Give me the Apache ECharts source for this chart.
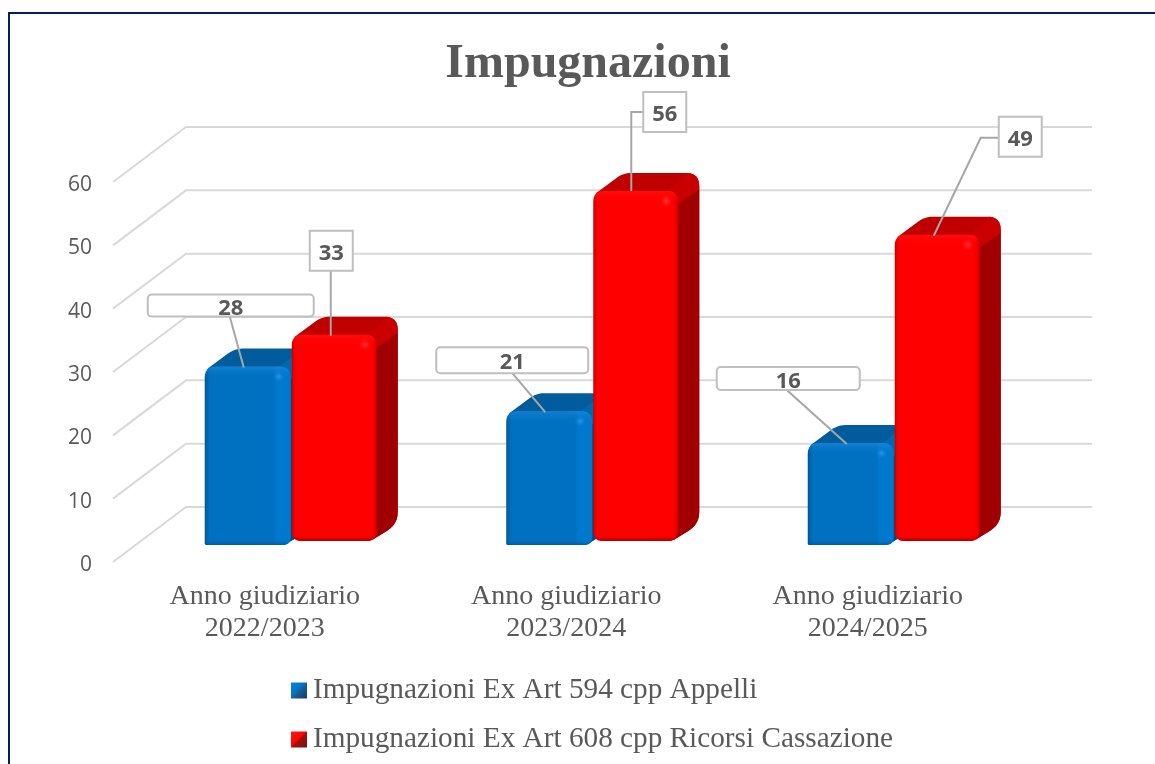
<!DOCTYPE html>
<html>
<head>
<meta charset="utf-8">
<title>Impugnazioni</title>
<style>
html, body { margin: 0; padding: 0; background: #fff; }
#chart { width: 1155px; height: 764px; }
</style>
<script src="https://cdn.jsdelivr.net/npm/echarts@6/dist/echarts.min.js"></script>
</head>
<body>
<div id="chart"></div>
<script>
'use strict';

var titleText = 'Impugnazioni';
var categories = ['Anno giudiziario\n2022/2023', 'Anno giudiziario\n2023/2024', 'Anno giudiziario\n2024/2025'];
var nameAppelli = 'Impugnazioni Ex Art 594 cpp Appelli';
var nameRicorsi = 'Impugnazioni Ex Art 608 cpp Ricorsi Cassazione';
var appelli = [28, 21, 16];
var ricorsi = [33, 56, 49];
var yTicks = [0, 10, 20, 30, 40, 50, 60];

// callout boxes and leader lines, px relative to the top of each bar
var calloutsAppelli = [
    { box: [-100, -72, 166, 22], r: 4, line: [[-18, -50], [-4, 1]] },
    { box: [-113, -64, 152, 26], r: 4, line: [[-37, -38], [-4, 1]] },
    { box: [-134, -76, 143, 23], r: 4, line: [[-64, -53], [-4, 1]] }
];
var calloutsRicorsi = [
    { box: [-24.5, -104, 43, 40], r: 0, line: [[-3.5, -64], [-3.5, 1]] },
    { box: [7.5, -99, 43, 40], r: 0, line: [[7.5, -79], [-4.5, -79], [-4.5, 0]] },
    { box: [61.5, -118, 43, 40], r: 0, line: [[61.5, -97], [43.5, -97], [-3.5, 1]] }
];

var TEXT_COLOR = '#595959';
var SERIF = '"Liberation Serif", serif';
var SANS = '"Open Sans", sans-serif';
var WALL_DX = 73;
var WALL_DY = 55;
var WALL_RIGHT = 1092;

// shape of the two bar series inside a category band
var styleAppelli = {
    offset: -60, width: 86, lift: 17, scale: 1.006, footR: 2,
    top: '#005C9C', side: '#004C82', corner: '#0068AC', shine: '#2A98EC',
    front: [[0, '#004F88'], [0.02, '#0062A8'], [0.06, '#0070C0'], [0.8, '#0070C0'], [0.83, '#0078CE'], [1, '#0078CE']],
    shadeTop: 'rgba(40,150,240,0.45)', shadeBottom: 'rgba(0,70,130,0.5)', shadeClear: 'rgba(0,112,192,0)'
};
var styleRicorsi = {
    offset: 27, width: 85, lift: 21, scale: 0.987, footR: 10,
    top: '#C00000', side: '#A00000', corner: '#CA0000', shine: '#FF3A3A',
    front: [[0, '#C00000'], [0.02, '#E60000'], [0.05, '#FF0000'], [0.93, '#FF0000'], [0.97, '#EE0000'], [1, '#D00000']],
    shadeTop: 'rgba(255,40,40,0.3)', shadeBottom: 'rgba(130,0,0,0.8)', shadeClear: 'rgba(255,0,0,0)'
};
var BAR_DX = 21;
var BAR_DY = 17;

var gradient = function (x2, y2, stops) {
    return new echarts.graphic.LinearGradient(0, 0, x2, y2, stops.map(function (s) {
        return { offset: s[0], color: s[1] };
    }));
};

// polygon with softened corners, radii[i] belongs to pts[i]
var roundPoly = function (pts, radii) {
    var out = [];
    var n = pts.length;
    pts.forEach(function (p, i) {
        var r = radii[i];
        if (!r) {
            out.push(p);
            return;
        }
        var a = pts[(i + n - 1) % n];
        var b = pts[(i + 1) % n];
        var la = Math.hypot(a[0] - p[0], a[1] - p[1]);
        var lb = Math.hypot(b[0] - p[0], b[1] - p[1]);
        var p0 = [p[0] + (a[0] - p[0]) * r / la, p[1] + (a[1] - p[1]) * r / la];
        var p1 = [p[0] + (b[0] - p[0]) * r / lb, p[1] + (b[1] - p[1]) * r / lb];
        for (var k = 0; k <= 6; k++) {
            var t = k / 6;
            out.push([
                (1 - t) * (1 - t) * p0[0] + 2 * t * (1 - t) * p[0] + t * t * p1[0],
                (1 - t) * (1 - t) * p0[1] + 2 * t * (1 - t) * p[1] + t * t * p1[1]
            ]);
        }
    });
    return out;
};

// front face rectangle of a bar from the axis scales
var barBox = function (api, st) {
    var base = api.coord([api.value(0), 0]);
    var unit = api.size([0, 1])[1];
    var x0 = base[0] + st.offset;
    var y0 = base[1] - st.lift;
    return { x0: x0, x1: x0 + st.width, y0: y0, y1: y0 - api.value(1) * unit * st.scale };
};

var renderBar = function (st) {
    return function (params, api) {
        var b = barBox(api, st);
        var h = b.y0 - b.y1;
        var backY = b.y1 - BAR_DY;
        var backX = b.x1 + BAR_DX;
        var poly = function (pts, radii, fill) {
            return { type: 'polygon', shape: { points: roundPoly(pts, radii) }, style: { fill: fill } };
        };
        var frontPts = [[b.x0, b.y1], [b.x1, b.y1], [b.x1, b.y0], [b.x0, b.y0]];
        var frontR = [11, 11, st.footR === 2 ? 8 : 11, st.footR];
        var shade = [[0, st.shadeTop], [12 / h, st.shadeClear], [1 - 6 / h, st.shadeClear], [1, st.shadeBottom]];
        return {
            type: 'group',
            children: [
                // whole silhouette in the colour of the top face
                poly([
                    [b.x0 + 3, b.y1 + 2], [b.x0 + 30, backY - 1], [backX, backY - 1],
                    [backX, b.y0 - BAR_DY], [b.x1 - 6, b.y0], [b.x0 + 3, b.y0 - 2]
                ], [0, 8, 13, 12, 4, 0], st.top),
                poly([
                    [b.x1 - 4, b.y1 + 13], [b.x1, b.y1 + 13], [backX, b.y1 - 2],
                    [backX, b.y0 - BAR_DY], [b.x1 - 6, b.y0], [b.x1 - 4, b.y0 - 1]
                ], [0, 0, 0, 12, 4, 0], st.side),
                poly([
                    [b.x1 - 11, b.y1], [b.x1 + 11, backY - 1], [backX, backY - 1],
                    [backX, b.y1 - 2], [b.x1, b.y1 + 13]
                ], [0, 0, 13, 0, 0], st.corner),
                poly(frontPts, frontR, gradient(1, 0, st.front)),
                poly(frontPts, frontR, gradient(0, 1, shade)),
                {
                    type: 'circle',
                    shape: { cx: b.x1 - 12, cy: b.y1 + 10, r: 7 },
                    style: { fill: new echarts.graphic.RadialGradient(0.5, 0.5, 0.5, [
                        { offset: 0, color: st.shine },
                        { offset: 1, color: st.shadeClear }
                    ]) }
                }
            ]
        };
    };
};

var renderCallout = function (st, layout) {
    return function (params, api) {
        var b = barBox(api, st);
        var c = layout[params.dataIndex];
        var ax = (b.x0 + b.x1) / 2;
        var ay = b.y1;
        return {
            type: 'group',
            children: [
                {
                    type: 'polyline',
                    shape: { points: c.line.map(function (p) { return [ax + p[0], ay + p[1]]; }) },
                    style: { fill: null, stroke: '#A6A6A6', lineWidth: 2 }
                },
                {
                    type: 'rect',
                    shape: { x: ax + c.box[0], y: ay + c.box[1], width: c.box[2], height: c.box[3], r: c.r },
                    style: { fill: '#FFFFFF', stroke: '#BFBFBF', lineWidth: 2 }
                },
                {
                    type: 'text',
                    x: ax + c.box[0] + c.box[2] / 2,
                    y: ay + c.box[1] + c.box[3] / 2 + 3,
                    style: {
                        text: String(api.value(1)),
                        fill: TEXT_COLOR,
                        font: 'bold 22px ' + SANS,
                        align: 'center',
                        verticalAlign: 'middle'
                    }
                }
            ]
        };
    };
};

var renderWall = function (params, api) {
    var left = params.coordSys.x - 1;
    var y = api.coord([0, api.value(1)])[1];
    return {
        type: 'polyline',
        shape: { points: [[left, y], [left + WALL_DX, y - WALL_DY], [WALL_RIGHT, y - WALL_DY]] },
        style: { fill: null, stroke: '#D9D9D9', lineWidth: 2 }
    };
};

var toPoints = function (values) {
    return values.map(function (v, i) { return [i, v]; });
};

var barSeries = function (name, values, st, mark) {
    return {
        name: name,
        type: 'custom',
        z: 3,
        silent: true,
        encode: { x: 0, y: 1 },
        itemStyle: { color: mark },
        renderItem: renderBar(st),
        data: toPoints(values)
    };
};

var calloutSeries = function (values, st, layout) {
    return {
        type: 'custom',
        z: 5,
        silent: true,
        encode: { x: 0, y: 1 },
        renderItem: renderCallout(st, layout),
        data: toPoints(values)
    };
};

var markAppelli = gradient(1, 1, [[0, '#0A86DC'], [0.5, '#0070C0'], [0.5, '#1F5E96'], [1, '#123E68']]);
var markRicorsi = gradient(1, 1, [[0, '#FF1A1A'], [0.5, '#FF0000'], [0.5, '#A01010'], [1, '#7A1414']]);

var option = {
    animation: false,
    backgroundColor: '#FFFFFF',
    title: {
        text: titleText,
        left: 583,
        top: 36,
        textAlign: 'center',
        textStyle: { color: TEXT_COLOR, fontFamily: SERIF, fontWeight: 'bold', fontSize: 48 }
    },
    grid: { left: 114, top: 182, width: 904.5, height: 380 },
    xAxis: {
        type: 'category',
        data: categories,
        axisLine: { show: false },
        axisTick: { show: false },
        axisLabel: { color: TEXT_COLOR, fontFamily: SERIF, fontSize: 28, lineHeight: 32, margin: 19, interval: 0 }
    },
    yAxis: {
        type: 'value',
        min: 0,
        max: 60,
        interval: 10,
        splitLine: { show: false },
        axisLine: { show: false },
        axisTick: { show: false },
        axisLabel: { color: TEXT_COLOR, fontFamily: SANS, fontSize: 21, margin: 22, verticalAlign: 'top', lineHeight: 6 }
    },
    legend: {
        orient: 'vertical',
        left: 286,
        top: 671,
        itemWidth: 16,
        itemHeight: 16,
        itemGap: 20,
        selectedMode: false,
        textStyle: { color: TEXT_COLOR, fontFamily: SERIF, fontSize: 29.25, padding: [0, 0, 0, 1] },
        data: [
            { name: nameAppelli, icon: 'rect', itemStyle: { color: markAppelli } },
            { name: nameRicorsi, icon: 'rect', itemStyle: { color: markRicorsi } }
        ]
    },
    graphic: [{
        type: 'polyline',
        silent: true,
        shape: { points: [[9, 764], [9, 13], [1155, 13]] },
        style: { fill: null, stroke: '#002060', lineWidth: 2 }
    }],
    series: [
        {
            type: 'custom',
            z: 1,
            silent: true,
            encode: { x: 0, y: 1 },
            renderItem: renderWall,
            data: yTicks.map(function (v) { return [0, v]; })
        },
        barSeries(nameAppelli, appelli, styleAppelli, markAppelli),
        barSeries(nameRicorsi, ricorsi, styleRicorsi, markRicorsi),
        calloutSeries(appelli, styleAppelli, calloutsAppelli),
        calloutSeries(ricorsi, styleRicorsi, calloutsRicorsi)
    ]
};

var chart = echarts.init(document.getElementById('chart'));
chart.setOption(option);
</script>
</body>
</html>
